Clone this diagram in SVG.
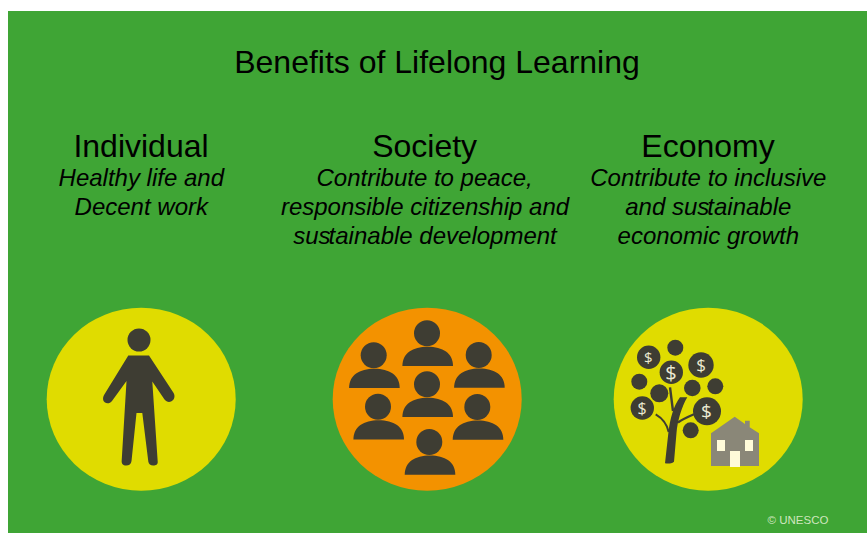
<svg xmlns="http://www.w3.org/2000/svg" width="867" height="533" viewBox="0 0 867 533">
<style>
text{font-family:"Liberation Sans",Arial,sans-serif;fill:#000;text-anchor:middle}
.h{font-size:32px}
.s{font-size:24px;font-style:italic}
.d{fill:#3e3d33}
.b{fill:none;stroke:#3e3d33}
.m{font-family:"Open Sans","Liberation Sans",sans-serif;font-weight:400;fill:#ecebd2}
.w{fill:#fffbd9}
</style>
<defs>
<g id="p"><circle class="d" r="13"/><path class="d" d="M-24.6 32.7C-24.6 20-14.3 13.5 .7 13.5S26 20 26 32.7Z"/></g>
</defs>
<rect id="background" x="8" y="11" width="859" height="522" fill="#3fa535"/>
<g id="title"><text class="h" x="437" y="73">Benefits of Lifelong Learning</text></g>
<g id="individual-text">
<text class="h" x="141" y="157">Individual</text>
<text class="s" x="141.3" y="186">Healthy life and</text>
<text class="s" x="141.3" y="215">Decent work</text>
</g>
<g id="society-text">
<text class="h" x="424.6" y="157">Society</text>
<text class="s" x="424.6" y="186">Contribute to peace,</text>
<text class="s" x="425" y="215">responsible citizenship and</text>
<text class="s" x="425" y="244" dx="0 0 0 -2">sustainable development</text>
</g>
<g id="economy-text">
<text class="h" x="708" y="157">Economy</text>
<text class="s" x="708.3" y="186">Contribute to inclusive</text>
<text class="s" x="708.3" y="215" dx="0 0 0 0 0 0 0 -2">and sustainable</text>
<text class="s" x="708.3" y="244">economic growth</text>
</g>
<g id="individual">
<ellipse cx="141.2" cy="399.2" rx="94.5" ry="91.5" fill="#e0dc00"/>
<circle class="d" cx="139" cy="340" r="11.5"/>
<path class="d" d="M128.3 355.6H149L173.3 392.5C175.5 396 174.5 399.5 171.5 401.3C169 402.7 166.5 402 164.5 399.5L152.3 381.5L157.7 461.5C158 464.5 156 465.5 153.2 465.5C150.5 465.5 148.7 464 148.3 461.5L142.3 413H136.5L131.5 461C131.2 464 129 465.5 126.2 465.5C123 465.5 121.3 463.5 121.7 460.5L126.5 381L112 401C110 403.5 107 404 104.7 402.3C102.5 400.5 102.7 397 104.2 394.7Z"/>
</g>
<g id="society">
<ellipse cx="427.2" cy="399.2" rx="94.5" ry="91.5" fill="#f39200"/>
<use href="#p" x="427" y="333.3"/>
<use href="#p" x="373.7" y="355.3"/>
<use href="#p" x="478.7" y="355"/>
<use href="#p" x="427" y="384.3"/>
<use href="#p" x="378" y="406.7"/>
<use href="#p" x="477.3" y="407"/>
<use href="#p" x="429.3" y="442"/>
</g>
<g id="economy">
<ellipse cx="708.2" cy="399.2" rx="94.5" ry="91.5" fill="#e0dc00"/>
<path class="d" d="M665 463.3L668.3 433.5C670 418 674 405 680 397.3H687.3C681.5 407 677.5 421 676.5 433L674 461.7C671 464 668 463.8 665 463.3Z"/>
<path class="b" stroke-width="2.4" d="M670 387.3L673 411"/>
<path class="b" stroke-width="2" d="M655.7 414.3C662 418 667 424 668.7 432"/>
<path class="b" stroke-width="2.2" d="M678 422.5C683 419 690 416 694 414.3"/>
<circle class="d" cx="648.7" cy="357.3" r="11.7"/>
<circle class="d" cx="675.3" cy="347.7" r="8"/>
<circle class="d" cx="701" cy="365" r="12.7"/>
<circle class="d" cx="671.3" cy="372.3" r="11.7"/>
<circle class="d" cx="639.3" cy="381.7" r="8"/>
<circle class="d" cx="659.3" cy="393.3" r="9"/>
<circle class="d" cx="692.3" cy="388" r="8.3"/>
<circle class="d" cx="715.3" cy="386.3" r="8"/>
<circle class="d" cx="642.3" cy="408" r="11.7"/>
<circle class="d" cx="707" cy="411.3" r="14"/>
<circle class="d" cx="690.7" cy="430.3" r="8"/>
<text class="m" style="font-size:15px" x="648.3" y="362.5">$</text>
<text class="m" style="font-size:17px" x="701" y="371">$</text>
<text class="m" style="font-size:20px" x="671" y="379.5">$</text>
<text class="m" style="font-size:16px" x="642" y="413.5">$</text>
<text class="m" style="font-size:19px" x="706.5" y="418">$</text>
<path fill="#8a8778" d="M711 433.3L734.7 416.7L745 424V420.7H749.7V427.3L759 433.3V466H711Z"/>
<rect class="w" x="717" y="440" width="8" height="11"/>
<rect class="w" x="745" y="440" width="8" height="11"/>
<rect class="w" x="730" y="451" width="10" height="16"/>
</g>
<g id="credit"><text x="798" y="524" style="font-size:11.5px;fill:#cfe5bf">© UNESCO</text></g>
</svg>
